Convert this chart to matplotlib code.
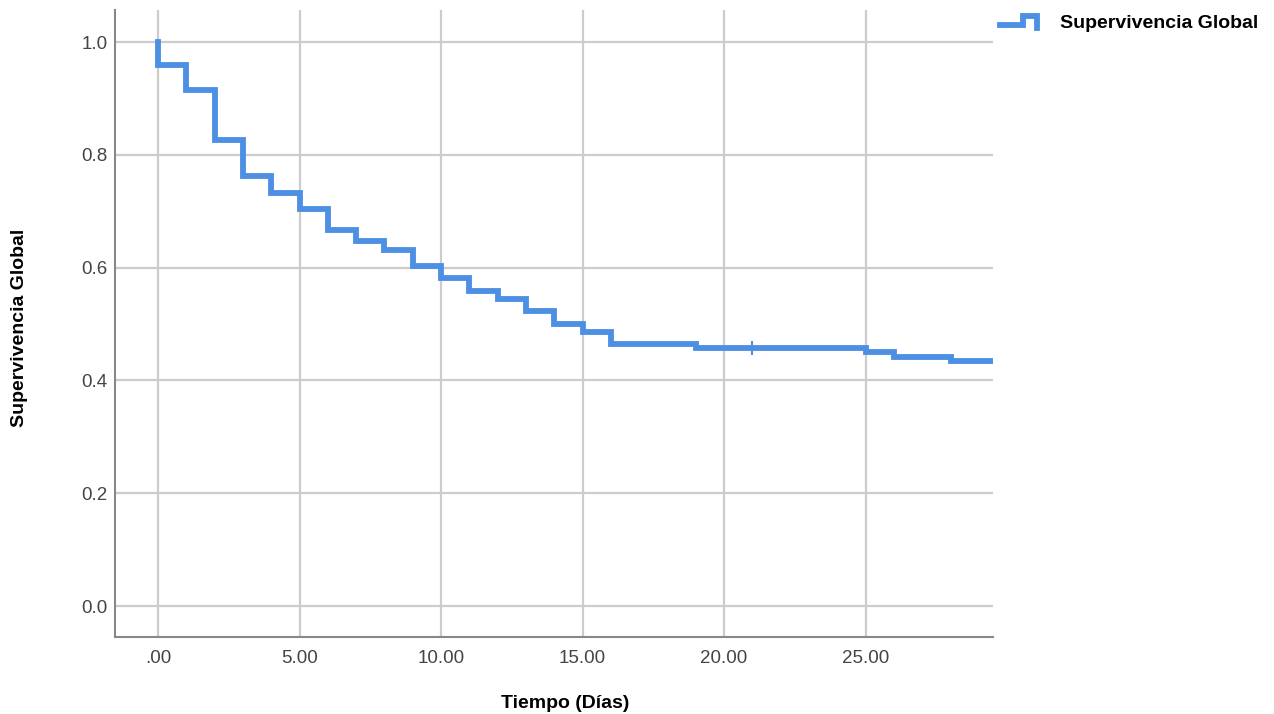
import matplotlib.pyplot as plt
from matplotlib.legend_handler import HandlerBase
from matplotlib.lines import Line2D

# Kaplan-Meier step values
event_times = [0, 0, 1, 2, 3, 4, 5, 6, 7, 8, 9, 10, 11, 12, 13, 14, 15, 16, 19, 25, 26, 28, 29.5]
survival = [1.0, 0.959, 0.915, 0.826, 0.762, 0.732, 0.704, 0.667, 0.647, 0.631, 0.603,
            0.582, 0.559, 0.544, 0.523, 0.500, 0.486, 0.465, 0.457, 0.450, 0.441, 0.434, 0.434]
censor_times = [21]
censor_surv = [0.457]

x_ticks = [0, 5, 10, 15, 20, 25]
x_labels = [".00", "5.00", "10.00", "15.00", "20.00", "25.00"]
y_ticks = [0.0, 0.2, 0.4, 0.6, 0.8, 1.0]
y_labels = ["0.0", "0.2", "0.4", "0.6", "0.8", "1.0"]

blue = "#4C8FE3"
plt.rcParams['font.family'] = ['Liberation Sans', 'DejaVu Sans']


class StepHandler(HandlerBase):
    def create_artists(self, legend, orig_handle, xd, yd, width, height, fontsize, trans):
        xs = [0, 0.62 * width, 0.62 * width, width, width]
        ys = [0.15 * height, 0.15 * height, 0.85 * height, 0.85 * height, -0.05 * height]
        ln = Line2D([x - xd for x in xs], [y - yd for y in ys], color=blue, lw=4.2,
                    solid_joinstyle='miter', transform=trans)
        return [ln]


fig = plt.figure(figsize=(12.74, 7.14), dpi=100)
ax = fig.add_axes([0.0903, 0.1078, 0.6891, 0.8782])

line, = ax.plot(event_times, survival, drawstyle='steps-post', color=blue, lw=4.2,
                solid_joinstyle='miter', zorder=3)
ax.plot(censor_times, censor_surv, marker='|', markersize=10, markeredgewidth=1.5,
        color=blue, linestyle='none', zorder=4)

ax.set_xlim(-1.52, 29.5)
ax.set_ylim(-0.055, 1.057)
ax.set_xticks(x_ticks)
ax.set_xticklabels(x_labels)
ax.set_yticks(y_ticks)
ax.set_yticklabels(y_labels)
ax.tick_params(length=0, labelsize=13.5, labelcolor='#444444')
ax.tick_params(axis='y', pad=5.5)
ax.tick_params(axis='x', pad=9)

ax.grid(True, color='#cccccc', lw=1.6)
ax.set_axisbelow(True)
for side in ['top', 'right']:
    ax.spines[side].set_visible(False)
for side in ['left', 'bottom']:
    ax.spines[side].set_color('#888888')
    ax.spines[side].set_linewidth(1.5)

fig.text(565 / 1274, 1 - 704 / 714, "Tiempo (Días)", fontsize=14, fontweight='bold',
         ha='center', va='center')
fig.text(20 / 1274, 1 - 328 / 714, "Supervivencia Global", fontsize=14, fontweight='bold',
         ha='center', va='center', rotation=90)

ax.legend([line], ["Supervivencia Global"], handler_map={line: StepHandler()},
          loc='upper left', bbox_to_anchor=(982 / 1274, 1.005), bbox_transform=fig.transFigure,
          frameon=False, prop={'weight': 'bold', 'size': 14}, handlelength=1.95,
          handletextpad=1.15)

fig.savefig("out.png", dpi=100)
